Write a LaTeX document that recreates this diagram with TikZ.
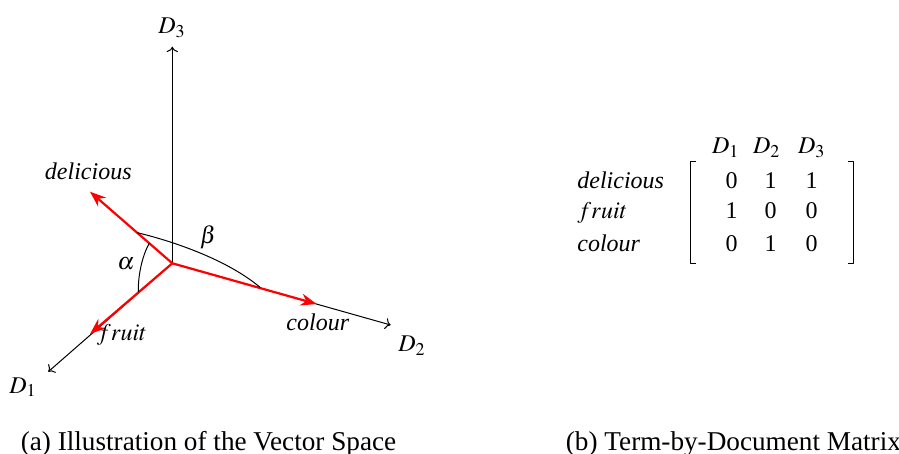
\documentclass[tikz,border=0pt]{standalone}
\usepackage{mathptmx}
\usepackage{fontspec}
\setmainfont{Liberation Serif}
\usetikzlibrary{arrows.meta}
\tikzset{
  every picture/.style={font=\fontsize{12}{14}\selectfont, line join=round, line cap=round, >=To},
  axis/.style={->, line width=0.5pt},
  termvec/.style={-{Stealth[length=8pt,width=6pt]}, red, line width=1.1pt},
  anglearc/.style={line width=0.5pt},
  lbl/.style={inner sep=0pt, anchor=base},
  caption/.style={lbl, font=\fontsize{13.6}{16}\selectfont},
}

\begin{document}
\begin{tikzpicture}[x=0.5pt,y=-0.5pt]
\useasboundingbox (0,0) rectangle (899,454);
% (a) vector space
\coordinate (o) at (172.3,263.3);
\coordinate (d1) at (48.3,371.7);
\coordinate (d2) at (390.7,325);
\coordinate (d3) at (172.3,46.7);
\coordinate (delicious) at (90,191.7);
\coordinate (fruit) at (90,334);
\coordinate (colour) at (316.7,304);
\draw[axis](o)--(d1);
\draw[axis](o)--(d2);
\draw[axis](o)--(d3);
\node[lbl] (d1lbl) at (23,393) {$D_1$};
\node[lbl] (d2lbl) at (412,351.7) {$D_2$};
\node[lbl] (d3lbl) at (172,33.3) {$D_3$};
\draw[termvec](o)--(delicious);
\draw[termvec](o)--(fruit);
\draw[termvec](o)--(colour);
\node[lbl] (deliciouslbl) at (88.3,180) {\textit{delicious}};
\node[lbl] (fruitlbl) at (122,340.7) {$fruit$};
\node[lbl] (colourlbl) at (317.8,330) {\textit{colour}};
% angles
\coordinate (b1) at (137.3,232.7);
\coordinate (b2) at (260,287.3);
\coordinate (a1) at (149.3,243.3);
\coordinate (a2) at (138.3,291.7);
\draw[anglearc](b1) .. controls (180,243) and (230,262) .. (b2);
\draw[anglearc](a1) .. controls (142,256) and (138,276) .. (a2);
\node[lbl] (alpha) at (126,270) {$\alpha$};
\node[lbl] (beta) at (208.3,244) {$\beta$};
% (b) term-by-document matrix
\node[lbl] (h1) at (725.7,153.3) {$D_1$};
\node[lbl] (h2) at (766.7,153.3) {$D_2$};
\node[lbl] (h3) at (811.7,153.3) {$D_3$};
\node[lbl,anchor=base west] (r1) at (577,188.5) {\textit{delicious}};
\node[lbl,anchor=base west] (r2) at (577,219) {$fruit$};
\node[lbl,anchor=base west] (r3) at (577,252) {\textit{colour}};
\foreach \row/\y/\a/\b/\c in {1/188.5/0/1/1, 2/219/1/0/0, 3/252/0/1/0} {
  \node[lbl] (m\row a) at (731.7,\y) {\a};
  \node[lbl] (m\row b) at (770.7,\y) {\b};
  \node[lbl] (m\row c) at (811.7,\y) {\c};
}
\draw[line width=0.6pt,line cap=butt](696,161.7)--(690.5,161.7)--(690.5,263.3)--(696,263.3);
\draw[line width=0.6pt,line cap=butt](848,161.7)--(853.5,161.7)--(853.5,263.3)--(848,263.3);
% captions
\node[caption] (capa) at (208.5,450) {(a) Illustration of the Vector Space};
\node[caption] (capb) at (733.4,450) {(b) Term-by-Document Matrix};
\end{tikzpicture}
\end{document}
